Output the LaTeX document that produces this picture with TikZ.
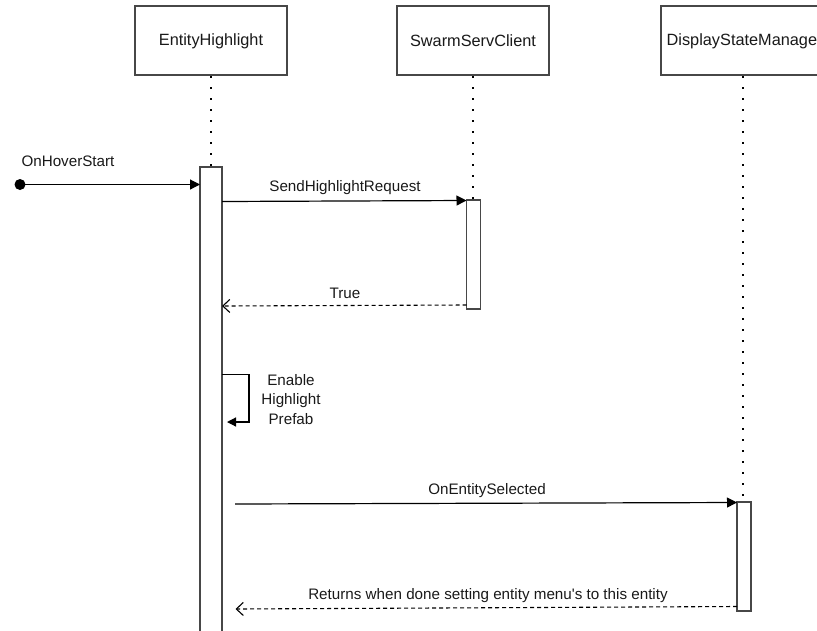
\documentclass[tikz,border=0pt]{standalone}
\usepackage{fontspec}
\newfontfamily\diagfont{Liberation Sans}
\usetikzlibrary{arrows.meta}
\begin{document}
\begin{tikzpicture}[x=1pt,y=-1pt,
  every node/.style={text=black!90, inner sep=0pt},
  actor/.style={draw=black!72, line width=1.4pt, fill=white},
  head/.style={font=\diagfont\fontsize{16.3}{20}\selectfont},
  bar/.style={draw=black!72, line width=1.4pt, fill=white},
  lifeline/.style={line width=2pt, dash pattern=on 2pt off 9pt, black},
  msg/.style={line width=1.2pt, black, -{Triangle[length=10pt,width=10pt]}},
  ret/.style={line width=1.1pt, black, dash pattern=on 4pt off 3pt, -{Straight Barb[length=7pt,width=13pt,line width=1.1pt]}},
  lbl/.style={font=\diagfont\fontsize{15.2}{19.5}\selectfont}]
\useasboundingbox (0,0) rectangle (817,630);
\clip (0,0) rectangle (817,630);

% participants
\draw[actor] (135,6) rectangle (287,75);
\node[head] (eh) at (211,41) {EntityHighlight};
\draw[actor] (397,6) rectangle (549,75);
\node[head] (ssc) at (473,41) {SwarmServClient};
\draw[actor] (661,6) rectangle (825,75);
\node[head, anchor=west] (dsm) at (666.5,41) {DisplayStateManage};

% lifelines
\coordinate (ehTop) at (211,76);
\coordinate (ehAct) at (211,167);
\coordinate (sscTop) at (473,76);
\coordinate (sscAct) at (473,200);
\coordinate (dsmTop) at (743,76);
\coordinate (dsmAct) at (743,502);
\draw[lifeline] (ehTop) -- (ehAct);
\draw[lifeline] (sscTop) -- (sscAct);
\draw[lifeline] (dsmTop) -- (dsmAct);

% activation bars
\draw[bar] (200,167) rectangle (222,640);
\draw[bar] (466.5,200) rectangle (480.5,309);
\draw[bar] (737,502) rectangle (751,611);

% found message
\coordinate (start) at (20,184.5);
\coordinate (ehIn) at (200,184.5);
\fill (start) circle (5.5);
\draw[msg] (start) -- (ehIn);
\node[lbl] (hover) at (68,161) {OnHoverStart};

% request to SwarmServClient
\coordinate (ehOut1) at (222,201.5);
\coordinate (sscIn) at (466.5,200.5);
\draw[msg] (ehOut1) -- (sscIn);
\node[lbl] (req) at (345,188) {SendHighlightRequest};

% reply from SwarmServClient
\coordinate (sscOut) at (466.5,305);
\coordinate (ehIn2) at (222,306);
\draw[ret] (sscOut) -- (ehIn2);
\node[lbl] (tru) at (345,293) {True};

% self call
\coordinate (selfA) at (222,374.5);
\coordinate (selfB) at (249,374.5);
\coordinate (selfC) at (249,422);
\coordinate (selfD) at (227,422);
\draw[line width=1.2pt, black, -{Triangle[length=9pt,width=9pt]}] (selfA) -- (selfB) -- (selfC) -- (selfD);
\node[lbl, align=center] (self) at (291,399.5) {Enable\\Highlight\\Prefab};

% selection message
\coordinate (ehOut3) at (235,504);
\coordinate (dsmIn) at (737,502.5);
\draw[msg] (ehOut3) -- (dsmIn);
\node[lbl] (sel) at (487,491) {OnEntitySelected};

% return from DisplayStateManager
\coordinate (dsmOut) at (737,606.5);
\coordinate (ehIn3) at (235.5,609);
\draw[ret] (dsmOut) -- (ehIn3);
\node[lbl] (rets) at (488,595.5) {Returns when done setting entity menu's to this entity};
\end{tikzpicture}
\end{document}
